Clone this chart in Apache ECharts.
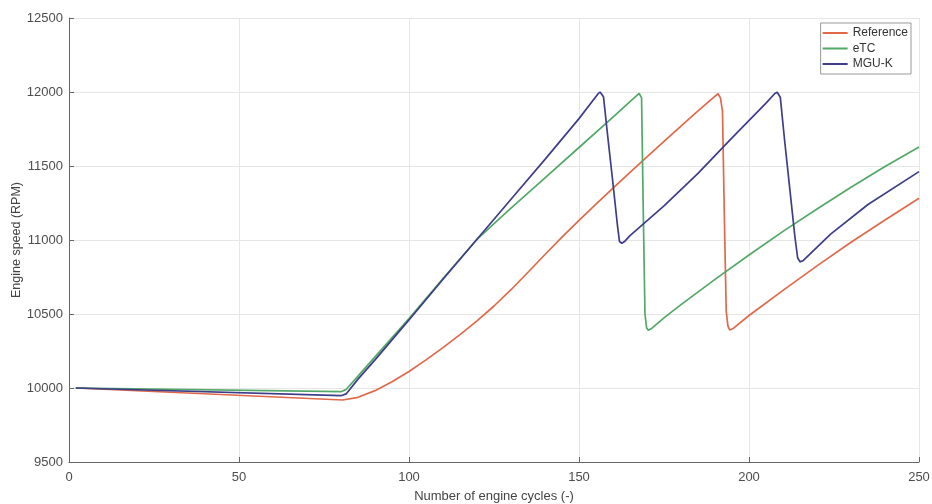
<!DOCTYPE html>
<html>
<head>
<meta charset="utf-8">
<script src="https://cdn.jsdelivr.net/npm/echarts@6/dist/echarts.min.js"></script>
<style>
html,body{margin:0;padding:0;background:#fff;}
#chart{width:932px;height:504px;}
</style>
</head>
<body>
<div id="chart"></div>
<script>
// Reference series (engine cycles, RPM)
var refX = [2, 80.5, 85, 90, 95, 100, 105, 110, 115, 120, 125, 130, 135, 140, 145, 150, 155, 160, 165, 170, 175, 180, 185, 189, 190.9, 191.6, 192.2, 192.8, 193.3, 193.8, 194.3, 195.2, 200, 210, 220, 230, 240, 250];
var refY = [10000, 9919, 9937, 9982, 10042, 10112, 10190, 10273, 10361, 10454, 10554, 10664, 10782, 10902, 11020, 11133, 11243, 11350, 11457, 11562, 11667, 11770, 11872, 11952, 11988, 11960, 11870, 11100, 10520, 10420, 10392, 10400, 10490, 10660, 10825, 10985, 11135, 11282];
// eTC series
var etcX = [2, 80, 81.5, 85, 90, 100, 110, 120, 125, 130, 140, 150, 160, 165, 167.7, 168.4, 168.9, 169.4, 169.9, 170.4, 171.2, 175, 180, 190, 200, 210, 220, 230, 240, 250];
var etcY = [10000, 9975, 9990, 10080, 10210, 10470, 10740, 11005, 11110, 11215, 11420, 11625, 11830, 11935, 11990, 11960, 11200, 10500, 10405, 10390, 10400, 10474, 10563, 10734, 10899, 11058, 11210, 11356, 11496, 11628];
// MGU-K series
var mguX = [2, 80, 81.5, 85, 90, 100, 110, 120, 130, 140, 150, 155.5, 156.2, 157.2, 158.5, 160, 161.3, 161.9, 162.6, 163.5, 165, 175, 185, 195, 205, 207.6, 208.3, 209.2, 210.5, 212, 213.5, 214.3, 215, 216, 224, 235, 250];
var mguY = [10000, 9948, 9960, 10060, 10190, 10460, 10735, 11005, 11275, 11545, 11820, 11985, 12000, 11968, 11690, 11380, 11100, 10990, 10978, 10992, 11030, 11230, 11450, 11690, 11925, 11990, 11998, 11965, 11667, 11345, 11022, 10880, 10852, 10862, 11040, 11240, 11462];

var seriesNames = ['Reference', 'eTC', 'MGU-K'];
var seriesColors = ['#e0694a', '#52a866', '#3d3d8a'];
var xTicks = {min: 0, max: 250, interval: 50};
var yTicks = {min: 9500, max: 12500, interval: 500};

function pairs(xs, ys){ return xs.map(function(x,i){ return [x, ys[i]]; }); }
var allData = [pairs(refX, refY), pairs(etcX, etcY), pairs(mguX, mguY)];

var font = "'Liberation Sans', Arial, sans-serif";
var chart = echarts.init(document.getElementById('chart'), null, {renderer:'canvas'});
chart.setOption({
  animation: false,
  backgroundColor: '#fff',
  textStyle: {fontFamily: font},
  grid: {left: 69, right: 13, top: 18, bottom: 42, containLabel: false, outerBoundsMode: 'none'},
  legend: {
    orient: 'vertical', right: 21, top: 23,
    data: seriesNames,
    icon: 'rect', itemWidth: 25, itemHeight: 2, itemGap: 3.5,
    padding: [4, 3, 4, 2],
    borderColor: '#999', borderWidth: 1, backgroundColor: '#fff',
    textStyle: {fontSize: 12, color: '#333', fontFamily: font}
  },
  xAxis: {
    type: 'value', min: xTicks.min, max: xTicks.max, interval: xTicks.interval,
    name: 'Number of engine cycles (-)', nameLocation: 'middle', nameGap: 28, nameMoveOverlap: false,
    nameTextStyle: {fontSize: 13, color: '#444', fontFamily: font},
    axisLine: {show: true, lineStyle: {color: '#666', width: 1}},
    axisTick: {show: true, inside: true, length: 5, lineStyle: {color: '#666'}},
    axisLabel: {fontSize: 13, color: '#4d4d4d', margin: 9, fontFamily: font, formatter: function(v){ return String(v); }},
    splitLine: {show: true, lineStyle: {color: '#e6e6e6', width: 1}}
  },
  yAxis: {
    type: 'value', min: yTicks.min, max: yTicks.max, interval: yTicks.interval,
    name: 'Engine speed (RPM)', nameLocation: 'middle', nameGap: 46, nameMoveOverlap: false,
    nameTextStyle: {fontSize: 12.5, color: '#444', fontFamily: font},
    axisLine: {show: true, lineStyle: {color: '#666', width: 1}},
    axisTick: {show: true, inside: true, length: 5, lineStyle: {color: '#666'}},
    axisLabel: {fontSize: 13, color: '#4d4d4d', margin: 6, fontFamily: font, formatter: function(v){ return String(v); }},
    splitLine: {show: true, lineStyle: {color: '#e6e6e6', width: 1}}
  },
  series: seriesNames.map(function(n, i){
    return {
      name: n, type: 'line', data: allData[i], showSymbol: false, symbol: 'none',
      smooth: false, color: seriesColors[i],
      lineStyle: {width: 1.7, color: seriesColors[i]}
    };
  })
});
</script>
</body>
</html>
